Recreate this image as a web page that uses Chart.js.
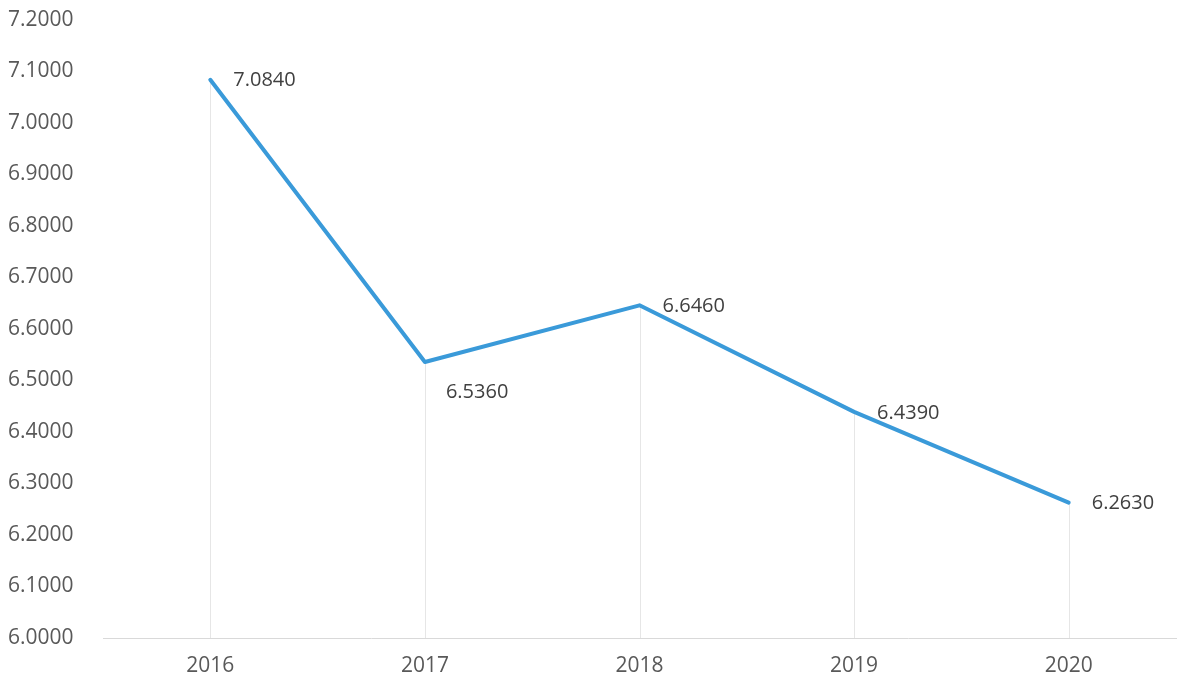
<!DOCTYPE html>
<html>
<head>
<meta charset="utf-8">
<script src="https://cdn.jsdelivr.net/npm/chart.js@4"></script>
<style>
  html, body { margin: 0; padding: 0; background: #fff; }
  .wrap { width: 1181px; height: 692px; position: relative; }
</style>
</head>
<body>
<div class="wrap"><canvas id="chart"></canvas></div>
<script>
const years = ['2016', '2017', '2018', '2019', '2020'];
const values = [7.084, 6.536, 6.646, 6.439, 6.263];
const yTicks = [6.0, 6.1, 6.2, 6.3, 6.4, 6.5, 6.6, 6.7, 6.8, 6.9, 7.0, 7.1, 7.2];

const FONT = "'Open Sans', 'Liberation Sans', sans-serif";

// faint vertical lines from each point down to the axis
const dropLines = {
  id: 'dropLines',
  beforeDatasetsDraw(chart) {
    const ctx = chart.ctx;
    const meta = chart.getDatasetMeta(0);
    const bottom = chart.chartArea.bottom;
    ctx.save();
    ctx.strokeStyle = '#e6e6e6';
    ctx.lineWidth = 1;
    meta.data.forEach(pt => {
      ctx.beginPath();
      ctx.moveTo(Math.round(pt.x) + 0.5, pt.y);
      ctx.lineTo(Math.round(pt.x) + 0.5, bottom);
      ctx.stroke();
    });
    ctx.restore();
  }
};

// value labels to the right of the points
const valueLabels = {
  id: 'valueLabels',
  afterDatasetsDraw(chart) {
    const ctx = chart.ctx;
    const meta = chart.getDatasetMeta(0);
    ctx.save();
    ctx.fillStyle = '#404040';
    ctx.font = '20px ' + FONT;
    ctx.textAlign = 'left';
    ctx.textBaseline = 'middle';
    meta.data.forEach((pt, i) => {
      const dy = i === 1 ? 30 : 1;
      const dx = i === 1 ? 21 : 23;
      ctx.fillText(values[i].toFixed(4), pt.x + dx, pt.y + dy);
    });
    ctx.restore();
  }
};

new Chart(document.getElementById('chart'), {
  type: 'line',
  data: {
    labels: years,
    datasets: [{
      data: values,
      borderColor: '#3a9ad9',
      borderWidth: 4,
      borderJoinStyle: 'round',
      borderCapStyle: 'round',
      pointRadius: 0,
      tension: 0,
      fill: false
    }]
  },
  options: {
    responsive: true,
    maintainAspectRatio: false,
    animation: false,
    layout: { padding: { left: 8, right: 5, top: 20, bottom: 6 } },
    plugins: { legend: { display: false }, tooltip: { enabled: false } },
    scales: {
      x: {
        offset: true,
        grid: { display: false, drawTicks: false },
        border: { display: true, color: '#d9d9d9', width: 1 },
        ticks: { color: '#595959', font: { family: FONT, size: 21 }, padding: 15 },
        afterFit: s => { s.height = 692 - 638 - 6; }
      },
      y: {
        min: 6.0,
        max: 7.2,
        afterBuildTicks: s => { s.ticks = yTicks.map(v => ({ value: v })); },
        grid: { display: false, drawTicks: false },
        border: { display: false },
        ticks: {
          color: '#595959',
          font: { family: FONT, size: 21 },
          crossAlign: 'far',
          padding: 0,
          callback: v => Number(v).toFixed(4)
        },
        afterFit: s => { s.width = 95; }
      }
    }
  },
  plugins: [dropLines, valueLabels]
});
</script>
</body>
</html>
